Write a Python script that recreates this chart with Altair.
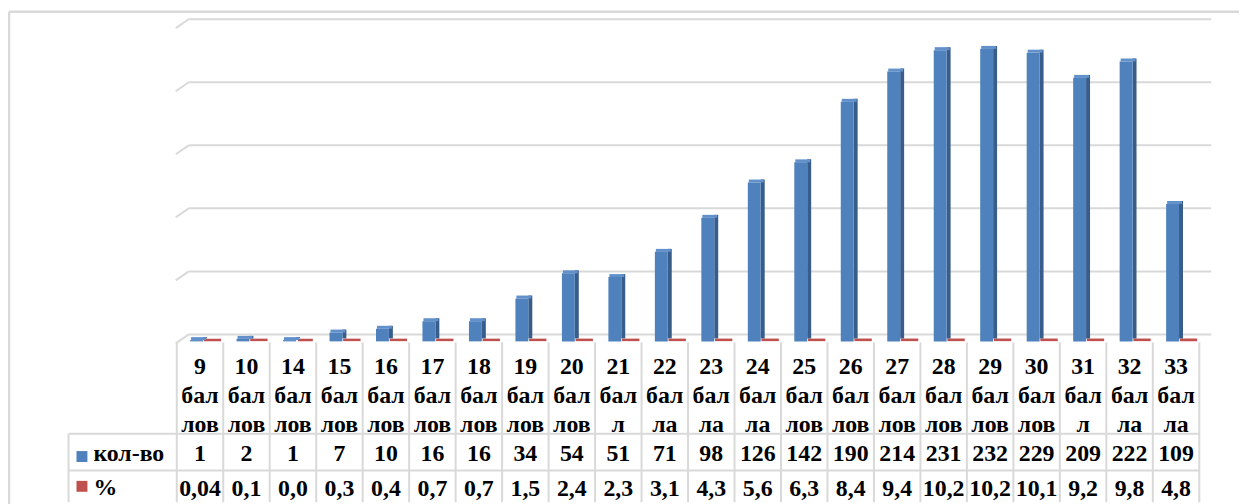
import altair as alt
import pandas as pd

# ---- data ----
categories = ["9 баллов", "10 баллов", "14 баллов", "15 баллов", "16 баллов", "17 баллов",
              "18 баллов", "19 баллов", "20 баллов", "21 балл", "22 балла", "23 балла",
              "24 балла", "25 баллов", "26 баллов", "27 баллов", "28 баллов", "29 баллов",
              "30 баллов", "31 балл", "32 балла", "33 балла"]
counts = [1, 2, 1, 7, 10, 16, 16, 34, 54, 51, 71, 98, 126, 142, 190, 214, 231, 232, 229, 209, 222, 109]
pct = [0.04, 0.1, 0.0, 0.3, 0.4, 0.7, 0.7, 1.5, 2.4, 2.3, 3.1, 4.3, 5.6, 6.3, 8.4, 9.4,
       10.2, 10.2, 10.1, 9.2, 9.8, 4.8]
series_names = ["кол-во", "%"]
grid_values = [0, 50, 100, 150, 200, 250]


def wrap(label):
    num, word = label.split(" ")
    return num + "\n" + word[:3] + "\n" + word[3:]


df = pd.DataFrame({
    "cat": categories,
    "count": counts,
    "frac": [p / 100 for p in pct],
    "pct_label": [str(p).replace(".", ",") for p in pct],
    "wrapped": [wrap(c) for c in categories],
})
grid_df = pd.DataFrame({"v": grid_values})
edges_df = pd.DataFrame({"edge": list(range(len(categories) + 1))})
one = pd.DataFrame({"k": [0]})

BLUE = "#4F81BD"
BLUE_SIDE = "#385D8A"
BLUE_TOP = "#6190CB"
RED = "#C0504D"
GRID = "#D9D9D9"
FONT = "Liberation Serif"
FS = 24

W, H = 1030, 494
xscale = alt.Scale(domain=categories, paddingInner=0, paddingOuter=0)
yscale = alt.Scale(domain=[0, 250], range=[332, 14.5], nice=False)

X = alt.X("cat:N", scale=xscale, sort=categories, axis=None)
Y = alt.Y("count:Q", scale=yscale, axis=None)

base = alt.Chart(df)

# back-wall gridlines
grid = alt.Chart(grid_df).mark_rule(color=GRID, strokeWidth=2, yOffset=-7).encode(
    y=alt.Y("v:Q", scale=yscale, axis=None), x=alt.value(12), x2=alt.value(1042))
slant = alt.Chart(grid_df).mark_rule(color=GRID, strokeWidth=2, yOffset=2, y2Offset=-7).encode(
    y=alt.Y("v:Q", scale=yscale, axis=None), y2="v:Q", x=alt.value(-1), x2=alt.value(12))

# 3D-ish columns
side = base.mark_bar(color=BLUE_SIDE, width=4, xOffset=5, yOffset=-3, y2Offset=-3).encode(
    x=X, y=Y, y2=alt.datum(0))
top = base.mark_bar(color=BLUE_TOP, width=15, xOffset=-1.5, yOffset=-3, y2Offset=0).encode(
    x=X, y=Y, y2="count:Q")
front = base.mark_bar(color=BLUE, width=13, xOffset=-3.5).encode(x=X, y=Y, y2=alt.datum(0))
red = base.mark_bar(color=RED, stroke=RED, strokeWidth=2.5, width=15, xOffset=12.5,
                    yOffset=-1.5, y2Offset=-1.5).encode(
    x=X, y=alt.Y("frac:Q", scale=yscale, axis=None), y2=alt.datum(0))

# data table lines
xe = alt.X("edge:Q", scale=alt.Scale(domain=[0, len(categories)], range=[0, W], nice=False), axis=None)
vlines = alt.Chart(edges_df).mark_rule(color=GRID, strokeWidth=2).encode(
    x=xe, y=alt.value(333), y2=alt.value(H))
hline1 = alt.Chart(one).mark_rule(color=GRID, strokeWidth=2).encode(
    y=alt.value(425), x=alt.value(-109), x2=alt.value(W))
hline2 = alt.Chart(one).mark_rule(color=GRID, strokeWidth=2).encode(
    y=alt.value(462), x=alt.value(-109), x2=alt.value(W))
hdr_left = alt.Chart(one).mark_rule(color=GRID, strokeWidth=2).encode(
    x=alt.value(-109), y=alt.value(425), y2=alt.value(H))
frame_top = alt.Chart(one).mark_rule(color=GRID, strokeWidth=2.5).encode(
    x=alt.value(-169), x2=alt.value(1075), y=alt.value(0))
frame_left = alt.Chart(one).mark_rule(color=GRID, strokeWidth=2.5).encode(
    x=alt.value(-169), y=alt.value(0), y2=alt.value(H + 5))

# table texts
cat_text = base.mark_text(font=FONT, fontWeight="bold", fontSize=FS, lineBreak="\n",
                          lineHeight=29, baseline="top", color="#000000").encode(
    x=X, y=alt.value(346), text="wrapped:N")
cnt_text = base.mark_text(font=FONT, fontWeight="bold", fontSize=FS, baseline="middle",
                          color="#000000").encode(x=X, y=alt.value(445), text="count:Q")
pct_text = base.mark_text(font=FONT, fontWeight="bold", fontSize=FS, baseline="middle",
                          color="#000000").encode(x=X, y=alt.value(481), text="pct_label:N")

legend_df = pd.DataFrame({"name": series_names, "color": [BLUE, RED]})
leg_parts = []
for i, (sq_y, tx_y) in enumerate([(448, 445), (478, 480)]):
    sub = legend_df.iloc[[i]]
    leg_parts.append(alt.Chart(sub).mark_square(size=121, opacity=1, filled=True).encode(
        x=alt.value(-95.5), y=alt.value(sq_y), color=alt.Color("color:N", scale=None)))
    leg_parts.append(alt.Chart(sub).mark_text(font=FONT, fontWeight="bold", fontSize=FS, align="left",
                                              baseline="middle", color="#000000").encode(
        x=alt.value(-84), y=alt.value(tx_y), text="name:N"))

chart = alt.layer(
    frame_top, frame_left, grid, slant, vlines, hline1, hline2, hdr_left,
    red, side, top, front,
    cat_text, cnt_text, pct_text, *leg_parts,
).properties(
    width=W, height=H,
    padding={"left": 170, "top": 2, "right": 40, "bottom": 0},
    autosize=alt.AutoSizeParams(type="none"),
    background="white",
).configure_view(strokeWidth=0)

chart.save("out.html", embed_options={"renderer": "svg", "actions": False})
